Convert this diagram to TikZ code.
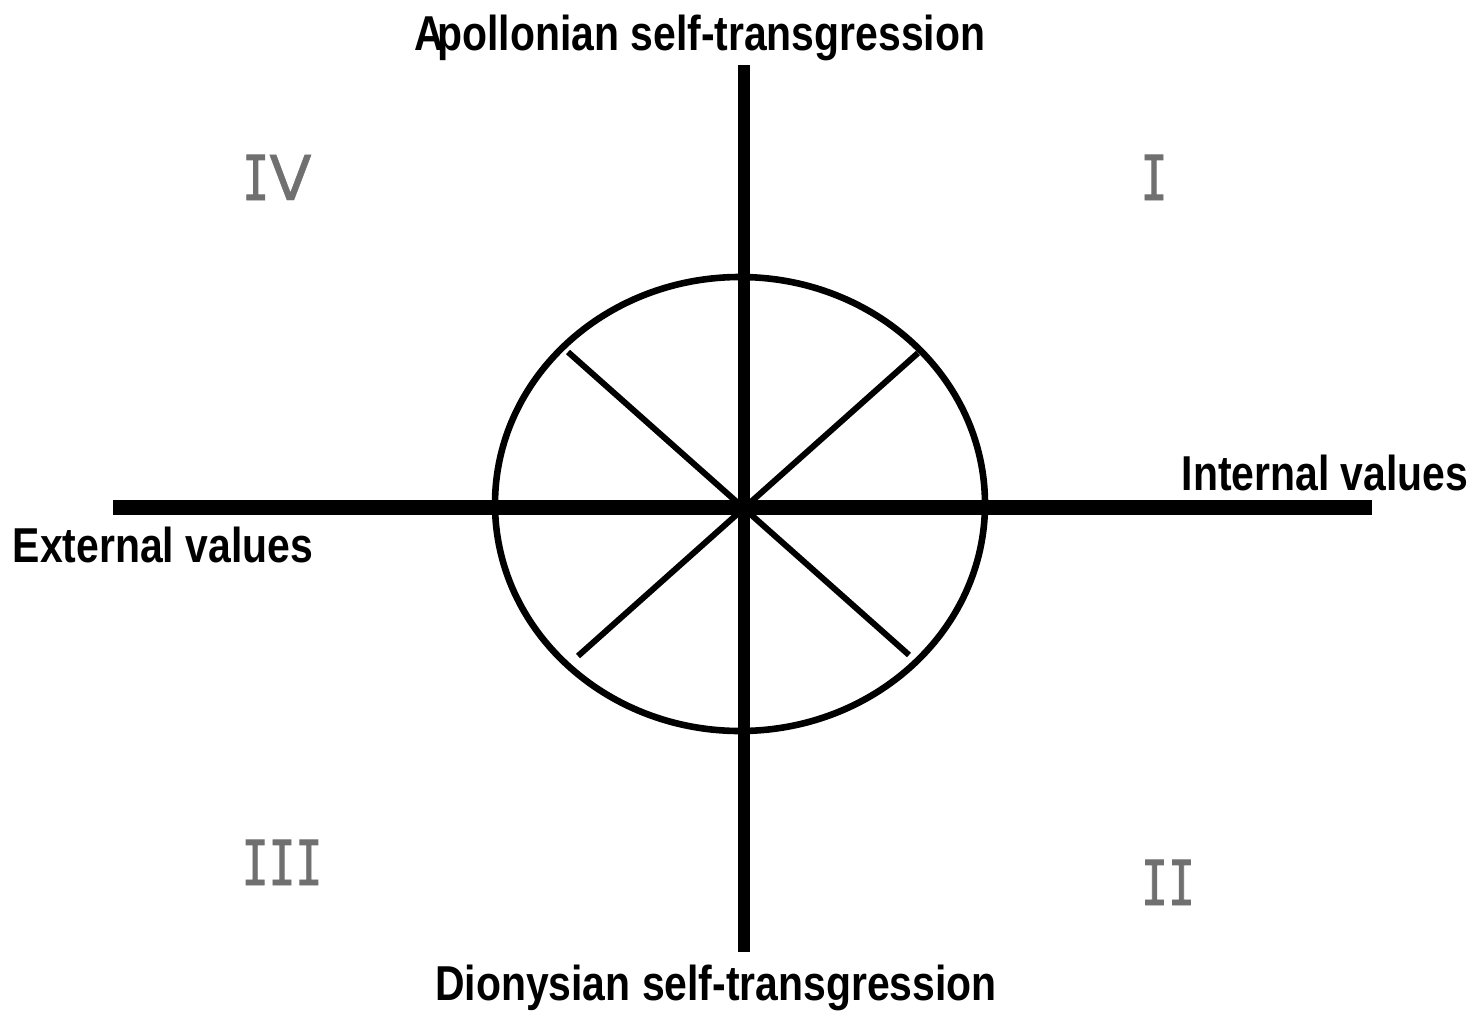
\documentclass[tikz,border=0pt]{standalone}
\usepackage{fontspec}
\setmainfont{Liberation Sans}
\newfontfamily\lblfont[FakeStretch=0.835]{Liberation Sans Bold}
\newfontfamily\numfont[FakeStretch=0.72,FakeBold=1.2]{DejaVu Sans Mono}
\newfontfamily\numvfont[FakeBold=0.6]{DejaVu Sans}
\newcommand\romV{{\numvfont V}}
\definecolor{numgray}{HTML}{707070}
\tikzset{
  axislabel/.style={font=\lblfont\fontsize{24.5pt}{28pt}\selectfont, anchor=base, inner sep=0pt},
  quadnum/.style={font=\numfont\fontsize{31pt}{36pt}\selectfont, text=numgray, anchor=base, inner sep=0pt},
  vaxis/.style={line width=6pt},
  haxis/.style={line width=7.5pt},
  spoke/.style={line width=3pt},
  ring/.style={line width=3.3pt}
}
\begin{document}
\begin{tikzpicture}[x=0.5pt,y=-0.5pt]
\useasboundingbox (0,0) rectangle (1482,1013);
% coordinates
\coordinate (top) at (743.5,65);
\coordinate (bot) at (743.5,952);
\coordinate (lft) at (113,507.5);
\coordinate (rgt) at (1372,507.5);
\coordinate (ctr) at (740,504);
\coordinate (ul) at (568,352);
\coordinate (lr) at (909,655);
\coordinate (ur) at (918,353);
\coordinate (ll) at (578,656);
% ellipse and spokes
\draw[ring] (ctr) ellipse [x radius=122.5pt, y radius=113.5pt];
\draw[spoke] (ul) -- (lr);
\draw[spoke] (ur) -- (ll);
% axes
\draw[vaxis] (top) -- (bot);
\draw[haxis] (lft) -- (rgt);
% labels
\node[axislabel] (apo) at (700,50) {A\kern-3.5pt pollonian self-transgression};
\node[axislabel] (dio) at (716,1000) {Dionysian self-transgression};
\node[axislabel] (int) at (1325,490) {Internal values};
\node[axislabel] (ext) at (163,562) {External values};
% quadrant numerals
\node[quadnum] (q4) at (277,200) {I\romV};
\node[quadnum] (q1) at (1154,200) {I};
\node[quadnum] (q3) at (282,885) {III};
\node[quadnum] (q2) at (1168,905) {II};
\end{tikzpicture}
\end{document}
